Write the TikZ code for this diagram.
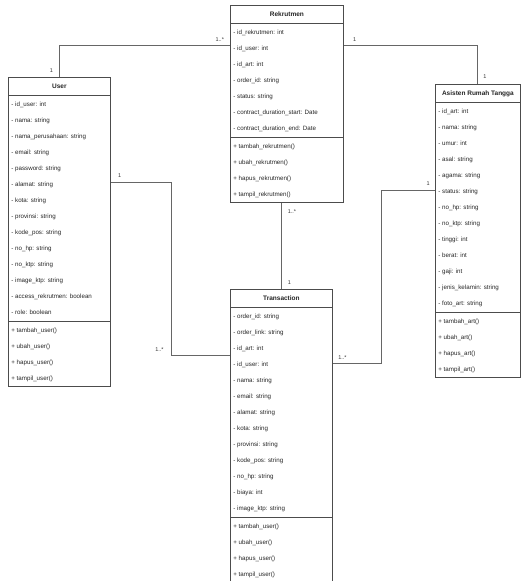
\documentclass[tikz,border=0pt]{standalone}
\usepackage{fontspec}
\setmainfont{Liberation Sans}
\usetikzlibrary{shapes.multipart, positioning, calc}

\newcommand{\rs}{\rule[-5.5pt]{0pt}{16pt}}

\begin{document}
\begin{tikzpicture}[
	x=1pt, y=-1pt,
	umlclass/.style={rectangle split, rectangle split parts=3, draw=black!70, line width=0.8pt, fill=white, anchor=north west, align=left, rectangle split part align={center,left,left}, inner xsep=3pt, inner ysep=0.5pt, font=\fontsize{6.2}{16}\selectfont, text=black!85},
	title/.style={font=\fontsize{6.5}{16}\selectfont\bfseries},
	assoc/.style={draw=black!60, line width=0.9pt},
	mult/.style={font=\fontsize{5.5}{6}\selectfont, text=black!80, inner sep=1pt}
	]
	
	\useasboundingbox[fill=white] (0,0) rectangle (521,581);
	
	% --- Classes ---
	\node[umlclass, minimum width=102pt] (user) at (8,77) {\rs{\bfseries\fontsize{6.5}{16}\selectfont User}\rs
		\nodepart{two}\rs- id\_user: int\\- nama: string\\- nama\_perusahaan: string\\- email: string\\- password: string\\- alamat: string\\- kota: string\\- provinsi: string\\- kode\_pos: string\\- no\_hp: string\\- no\_ktp: string\\- image\_ktp: string\\- access\_rekrutmen: boolean\\- role: boolean\rs
		\nodepart{three}\rs+ tambah\_user()\\+ ubah\_user()\\+ hapus\_user()\\+ tampil\_user()\rs};
	
	\node[umlclass, minimum width=113pt] (rek) at (230,5) {\rs{\bfseries\fontsize{6.5}{16}\selectfont Rekrutmen}\rs
		\nodepart{two}\rs- id\_rekrutmen: int\\- id\_user: int\\- id\_art: int\\- order\_id: string\\- status: string\\- contract\_duration\_start: Date\\- contract\_duration\_end: Date\rs
		\nodepart{three}\rs+ tambah\_rekrutmen()\\+ ubah\_rekrutmen()\\+ hapus\_rekrutmen()\\+ tampil\_rekrutmen()\rs};
	
	\node[umlclass, minimum width=85pt] (art) at (435,84) {\rs{\bfseries\fontsize{6.5}{16}\selectfont Asisten Rumah Tangga}\rs
		\nodepart{two}\rs- id\_art: int\\- nama: string\\- umur: int\\- asal: string\\- agama: string\\- status: string\\- no\_hp: string\\- no\_ktp: string\\- tinggi: int\\- berat: int\\- gaji: int\\- jenis\_kelamin: string\\- foto\_art: string\rs
		\nodepart{three}\rs+ tambah\_art()\\+ ubah\_art()\\+ hapus\_art()\\+ tampil\_art()\rs};
	
	\node[umlclass, minimum width=102pt] (trans) at (230,289) {\rs{\bfseries\fontsize{6.5}{16}\selectfont Transaction}\rs
		\nodepart{two}\rs- order\_id: string\\- order\_link: string\\- id\_art: int\\- id\_user: int\\- nama: string\\- email: string\\- alamat: string\\- kota: string\\- provinsi: string\\- kode\_pos: string\\- no\_hp: string\\- biaya: int\\- image\_ktp: string\rs
		\nodepart{three}\rs+ tambah\_user()\\+ ubah\_user()\\+ hapus\_user()\\+ tampil\_user()\rs};
	
	% --- Bends ---
	\coordinate (bendL) at (171,355);
	\coordinate (bendR) at (381,363);
	
	% --- Associations ---
	\draw[assoc] (user.north) |- (rek.west |- 0,45)
		node[mult, pos=0.1, left=5pt] {1}
		node[mult, pos=0.97, above=2pt] {1..*};
	\draw[assoc] (rek.east |- 0,45) -| (art.north)
		node[mult, pos=0.04, above=2pt] {1}
		node[mult, pos=0.9, right=4pt] {1};
	\draw[assoc] (rek.south -| trans.north) -- (trans.north)
		node[mult, pos=0.1, right=5pt] {1..*}
		node[mult, pos=0.92, right=5pt] {1};
	\draw[assoc] (user.east |- 0,182) -| (bendL) -- (trans.west |- bendL)
		node[mult, pos=0, above left=2pt and 6pt] {1..*};
	\node[mult, above right=3pt and 6pt] at (user.east |- 0,182) {1};
	\draw[assoc] (art.west |- 0,190) -| (bendR) -- (trans.east |- bendR)
		node[mult, pos=1, above right=2pt and 4pt] {1..*};
	\node[mult, above left=3pt and 4pt] at (art.west |- 0,190) {1};
	
\end{tikzpicture}
\end{document}
